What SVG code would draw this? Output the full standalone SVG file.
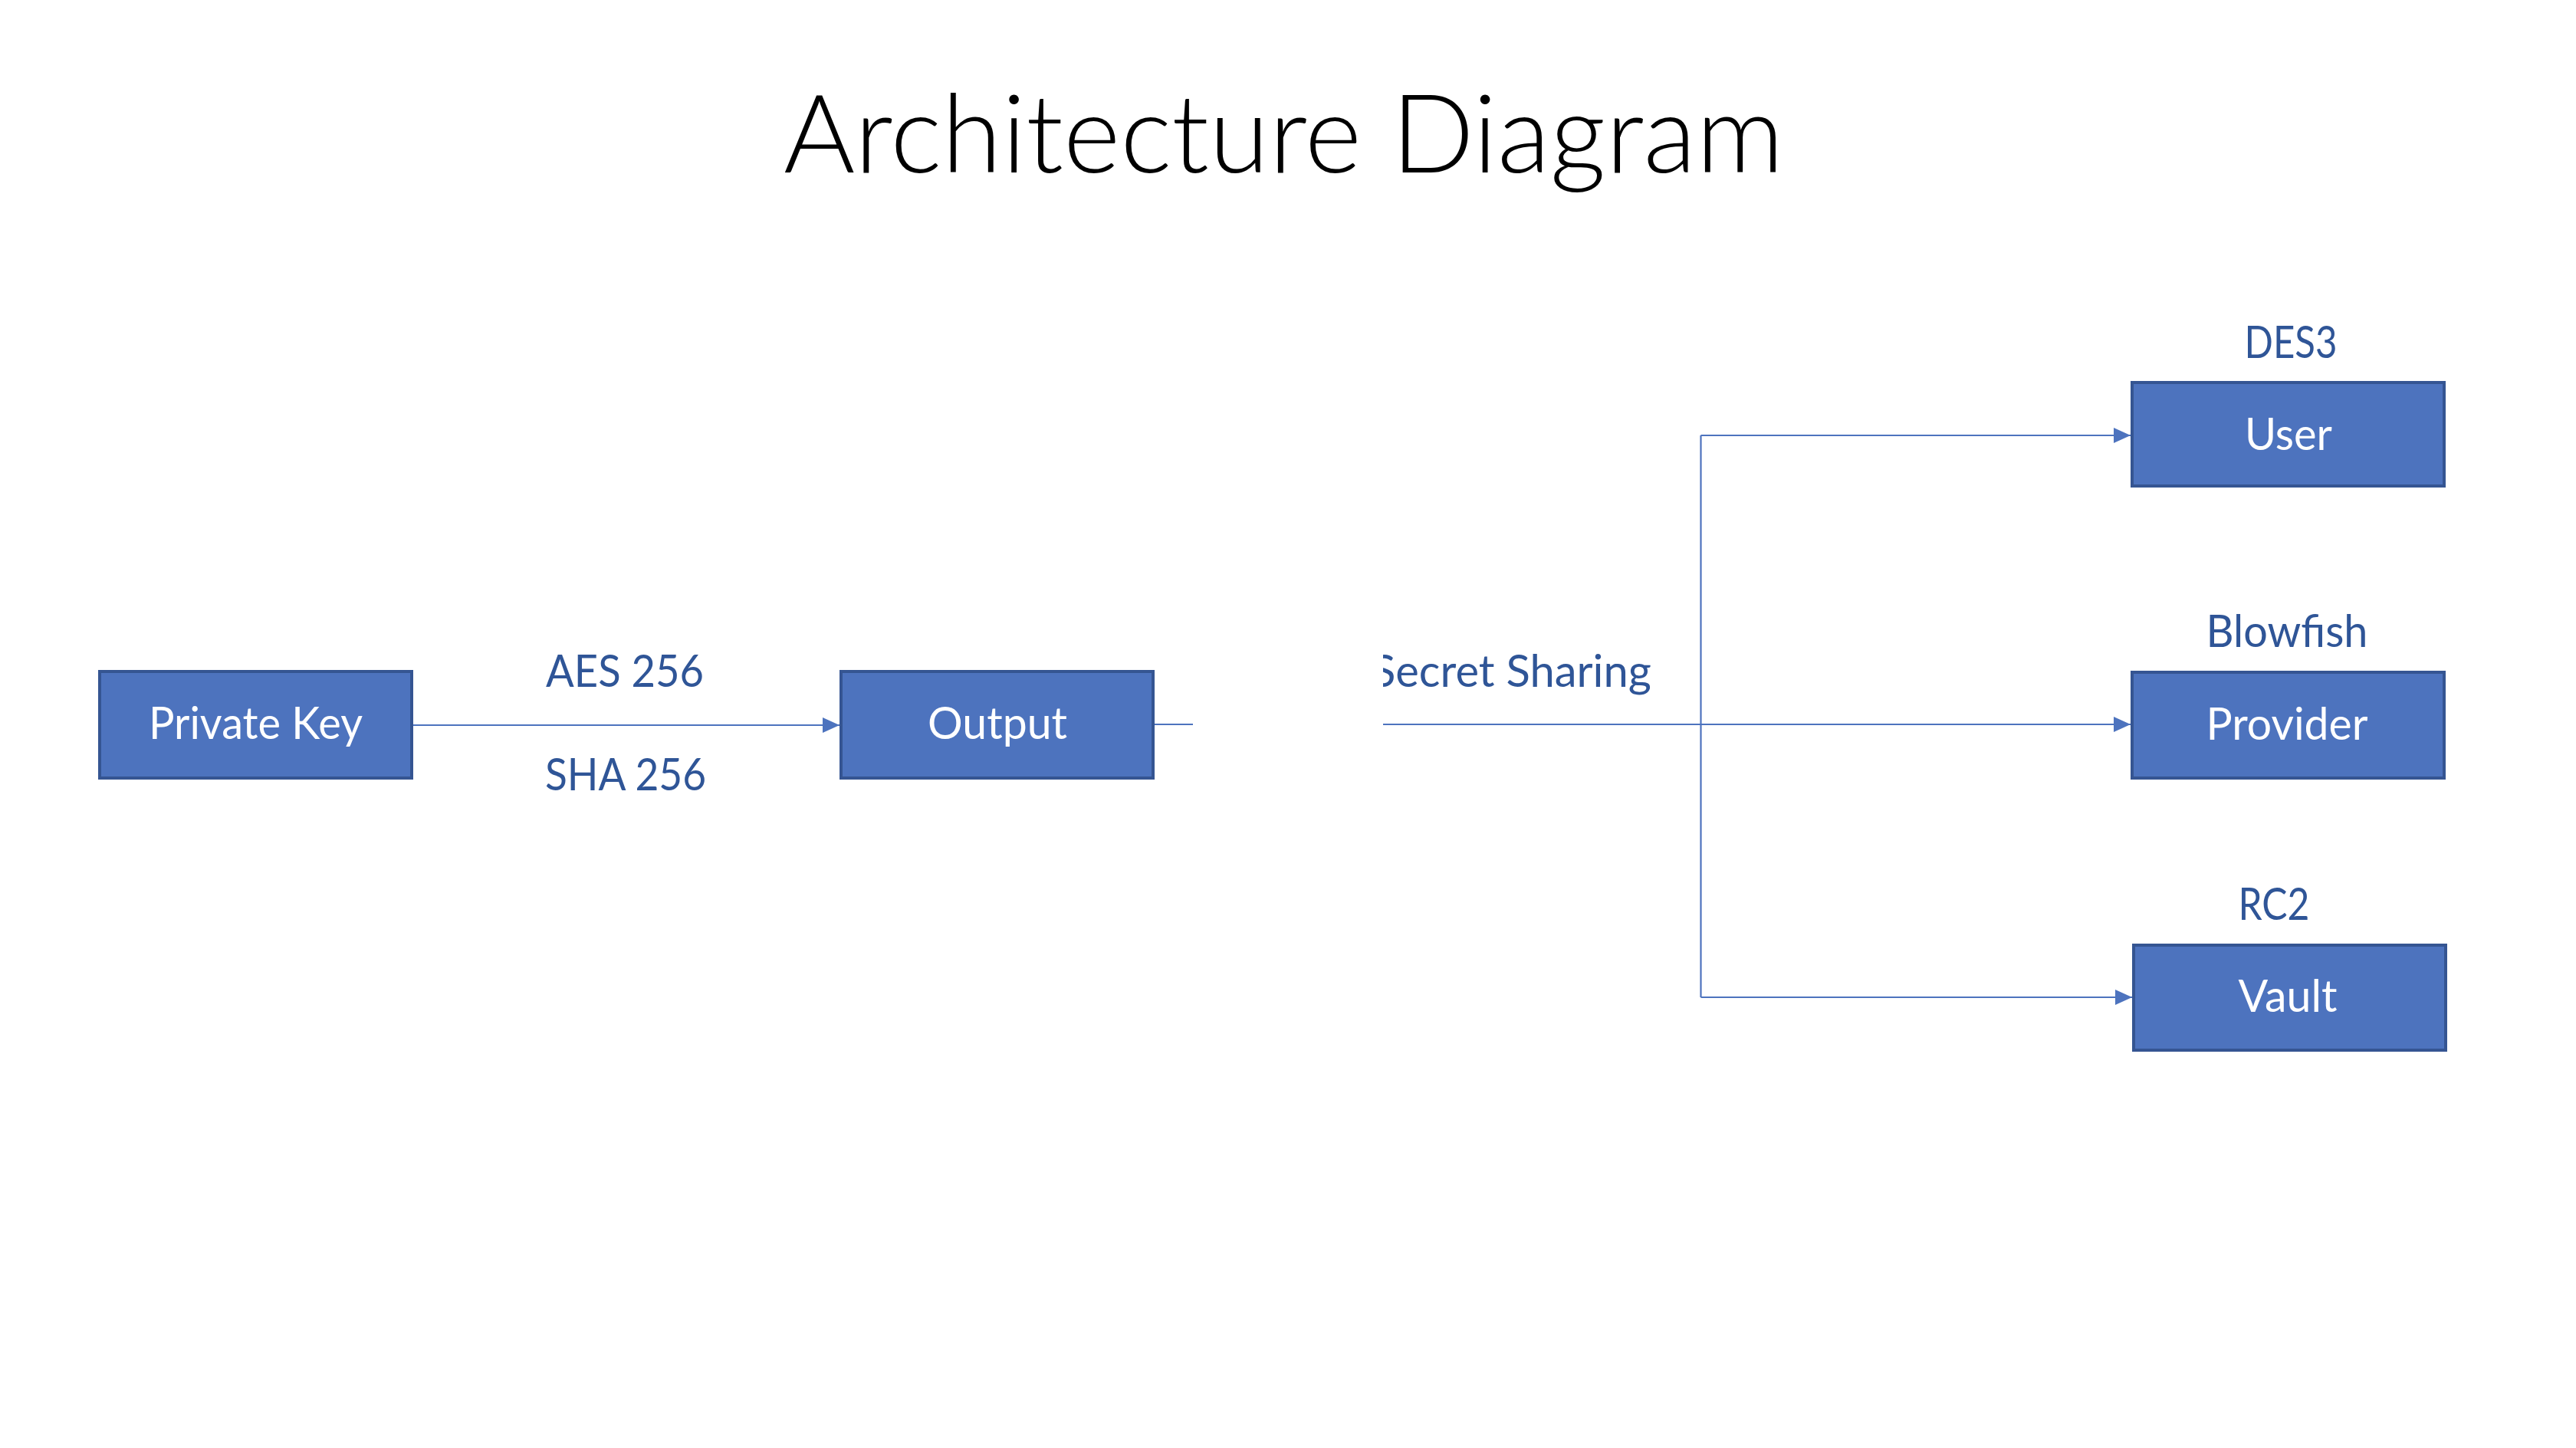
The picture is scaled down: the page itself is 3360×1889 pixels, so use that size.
<svg xmlns="http://www.w3.org/2000/svg" width="3360" height="1889" viewBox="0 0 3360 1889">
<style>
.box{fill:#4D73BE;stroke:#355592;stroke-width:4}
.in{font-family:Lato,"Liberation Sans",sans-serif;font-size:58px;fill:#FFFFFF;text-anchor:middle}
.lbl{font-family:Lato,"Liberation Sans",sans-serif;font-size:58px;fill:#2F5597;text-anchor:middle}
.title{font-family:Lato,"Liberation Sans",sans-serif;font-weight:300;font-size:142px;fill:#000000;text-anchor:middle}
.con{fill:none;stroke:#4D73BE;stroke-width:2.2}
</style>
<defs>
<marker id="arr" markerUnits="userSpaceOnUse" markerWidth="24" markerHeight="22" refX="22" refY="11" orient="auto">
<path d="M0,1 L22,11 L0,21 Z" fill="#4D73BE"/>
</marker>
<clipPath id="ssclip"><rect x="1804" y="820" width="500" height="120"/></clipPath>
</defs>
<rect width="3360" height="1889" fill="#FFFFFF"/>
<text class="title" x="1674.5" y="225" textLength="1305" lengthAdjust="spacingAndGlyphs">Architecture Diagram</text>
<g id="connectors">
<line class="con" x1="538" y1="946" x2="1095" y2="946" marker-end="url(#arr)"/>
<line class="con" x1="1505" y1="945" x2="1556" y2="945"/>
<line class="con" x1="1804" y1="945" x2="2779" y2="945" marker-end="url(#arr)"/>
<line class="con" x1="2218.5" y1="568" x2="2218.5" y2="1301"/>
<line class="con" x1="2218.5" y1="568" x2="2779" y2="568" marker-end="url(#arr)"/>
<line class="con" x1="2218.5" y1="1301" x2="2781" y2="1301" marker-end="url(#arr)"/>
<text class="lbl" x="815" y="896" textLength="206" lengthAdjust="spacingAndGlyphs">AES 256</text>
<text class="lbl" x="816" y="1031" textLength="210" lengthAdjust="spacingAndGlyphs">SHA 256</text>
<text class="lbl" x="1789" y="896" style="text-anchor:start" textLength="365" lengthAdjust="spacingAndGlyphs" clip-path="url(#ssclip)">Secret Sharing</text>
</g>
<g id="private-key">
<rect class="box" x="130" y="876" width="407" height="139"/>
<text class="in" x="333.5" y="964" textLength="279" lengthAdjust="spacingAndGlyphs">Private Key</text>
</g>
<g id="output">
<rect class="box" x="1097" y="876" width="407" height="139"/>
<text class="in" x="1301" y="964" textLength="182" lengthAdjust="spacingAndGlyphs">Output</text>
</g>
<g id="user">
<text class="lbl" x="2988" y="467" textLength="121" lengthAdjust="spacingAndGlyphs">DES3</text>
<rect class="box" x="2781" y="499" width="407" height="135"/>
<text class="in" x="2985" y="587" textLength="114" lengthAdjust="spacingAndGlyphs">User</text>
</g>
<g id="provider">
<text class="lbl" x="2983" y="844" textLength="211" lengthAdjust="spacingAndGlyphs">Blowfish</text>
<rect class="box" x="2781" y="877" width="407" height="138"/>
<text class="in" x="2983" y="965" textLength="211" lengthAdjust="spacingAndGlyphs">Provider</text>
</g>
<g id="vault">
<text class="lbl" x="2966" y="1200" textLength="93" lengthAdjust="spacingAndGlyphs">RC2</text>
<rect class="box" x="2783" y="1233" width="407" height="137"/>
<text class="in" x="2984" y="1320" textLength="129" lengthAdjust="spacingAndGlyphs">Vault</text>
</g>
</svg>
